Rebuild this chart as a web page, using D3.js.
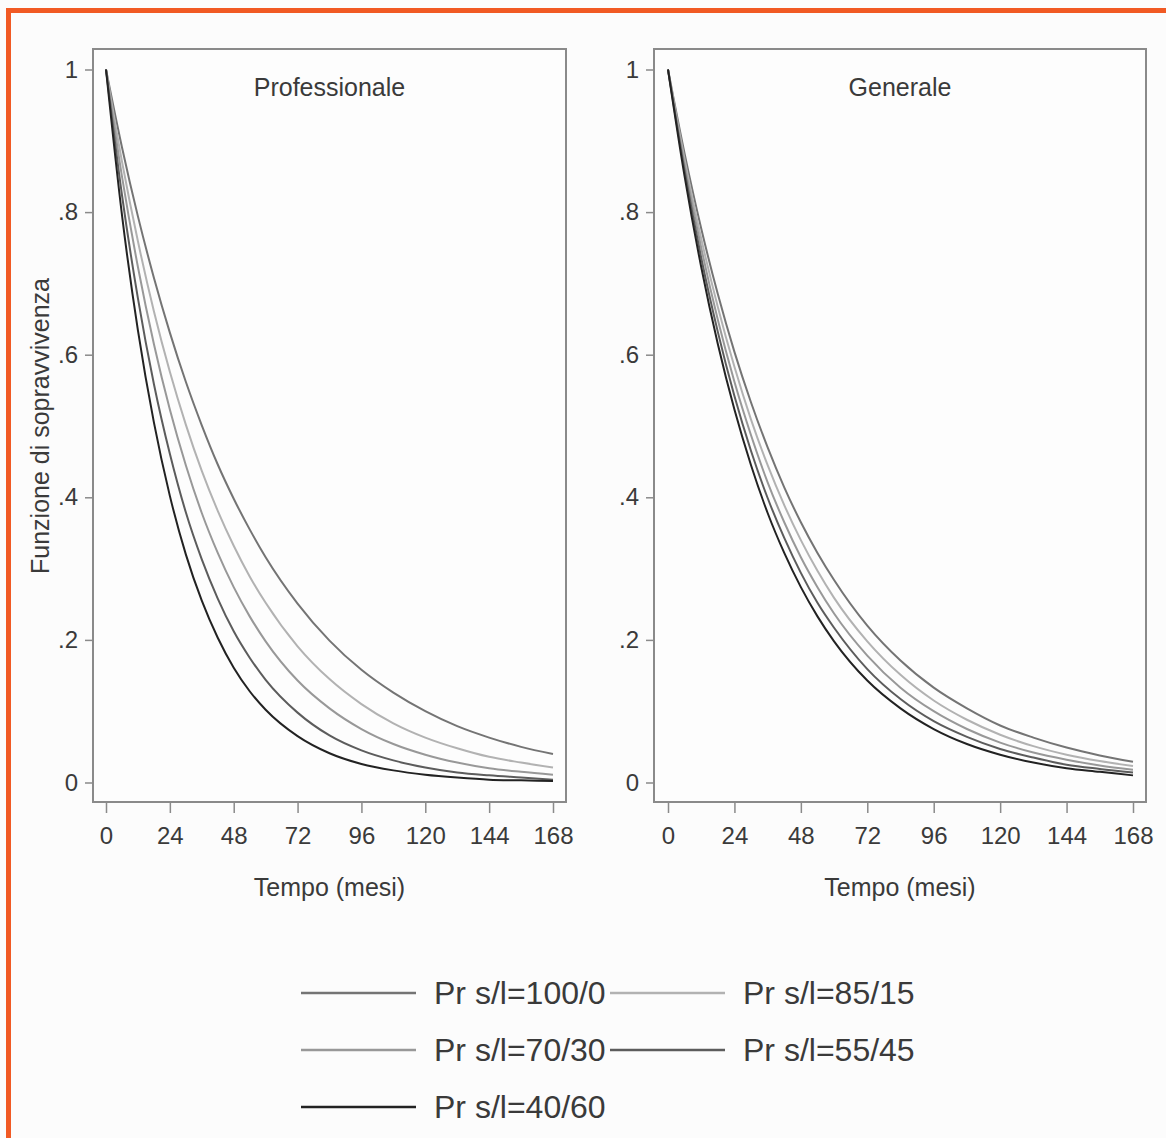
<!DOCTYPE html>
<html>
<head>
<meta charset="utf-8">
<script src="https://cdn.jsdelivr.net/npm/d3@7"></script>
<style>
  html, body { margin: 0; padding: 0; background: #fcfcfc; }
  svg { display: block; }
  text { font-family: "Liberation Sans", Arial, sans-serif; fill: #3a3a3a; }
</style>
</head>
<body>
<svg id="chart" width="1166" height="1138"></svg>
<script>
// ---- data ----
const months = [0, 6, 12, 18, 24, 30, 36, 42, 48, 54, 60, 72, 84, 96, 108, 120, 132, 144, 156, 168];
const seriesNames = ["Pr s/l=100/0", "Pr s/l=85/15", "Pr s/l=70/30", "Pr s/l=55/45", "Pr s/l=40/60"];
const panelTitles = ["Professionale", "Generale"];
const xTicks = [0, 24, 48, 72, 96, 120, 144, 168];
const yTicks = [0, 0.2, 0.4, 0.6, 0.8, 1];

// Professionale
const prof100_0 = [1, 0.891, 0.794, 0.708, 0.631, 0.562, 0.501, 0.446, 0.398, 0.355, 0.316, 0.251, 0.199, 0.158, 0.126, 0.100, 0.079, 0.063, 0.050, 0.040];
const prof85_15 = [1, 0.871, 0.759, 0.661, 0.576, 0.502, 0.437, 0.381, 0.332, 0.289, 0.252, 0.191, 0.145, 0.110, 0.083, 0.063, 0.048, 0.036, 0.028, 0.021];
const prof70_30 = [1, 0.850, 0.723, 0.615, 0.523, 0.445, 0.378, 0.322, 0.274, 0.233, 0.198, 0.143, 0.104, 0.075, 0.054, 0.039, 0.028, 0.020, 0.015, 0.011];
const prof55_45 = [1, 0.824, 0.679, 0.559, 0.461, 0.379, 0.313, 0.258, 0.212, 0.175, 0.144, 0.098, 0.066, 0.045, 0.031, 0.021, 0.014, 0.010, 0.007, 0.004];
const prof40_60 = [1, 0.796, 0.634, 0.505, 0.402, 0.320, 0.255, 0.203, 0.161, 0.128, 0.102, 0.065, 0.041, 0.026, 0.017, 0.011, 0.007, 0.004, 0.003, 0.002];

// Generale
const gen100_0 = [1, 0.882, 0.777, 0.685, 0.604, 0.533, 0.470, 0.414, 0.365, 0.322, 0.284, 0.220, 0.171, 0.133, 0.104, 0.080, 0.063, 0.049, 0.038, 0.029];
const gen85_15 = [1, 0.874, 0.763, 0.667, 0.583, 0.509, 0.445, 0.389, 0.340, 0.297, 0.259, 0.198, 0.151, 0.115, 0.088, 0.067, 0.051, 0.039, 0.030, 0.023];
const gen70_30 = [1, 0.866, 0.750, 0.649, 0.562, 0.487, 0.421, 0.365, 0.316, 0.274, 0.237, 0.178, 0.133, 0.100, 0.075, 0.056, 0.042, 0.032, 0.024, 0.018];
const gen55_45 = [1, 0.858, 0.736, 0.632, 0.542, 0.465, 0.399, 0.343, 0.294, 0.252, 0.217, 0.159, 0.117, 0.086, 0.064, 0.047, 0.035, 0.025, 0.019, 0.014];
const gen40_60 = [1, 0.850, 0.723, 0.615, 0.523, 0.445, 0.378, 0.322, 0.274, 0.233, 0.198, 0.143, 0.104, 0.075, 0.054, 0.039, 0.028, 0.020, 0.015, 0.010];

const panelData = [
  [prof100_0, prof85_15, prof70_30, prof55_45, prof40_60],
  [gen100_0, gen85_15, gen70_30, gen55_45, gen40_60]
];

// ---- styling / layout ----
const colors = ["#747474", "#b2b2b2", "#989898", "#5c5c5c", "#222222"];
const frameColor = "#8a8a8a";
const orange = "#f15a24";

const panels = [
  { frame: [93, 566], range: [106, 553] },
  { frame: [654, 1146], range: [668, 1133] }
];
const frameTop = 49, frameBottom = 802;

const svg = d3.select("#chart");
svg.append("rect").attr("width", 1166).attr("height", 1138).attr("fill", "#fcfcfc");

// orange border (top and left)
svg.append("rect").attr("x", 6).attr("y", 8).attr("width", 1160).attr("height", 5).attr("fill", orange);
svg.append("rect").attr("x", 6).attr("y", 8).attr("width", 5).attr("height", 1130).attr("fill", orange);

const y = d3.scaleLinear().domain([0, 1]).range([782.5, 69.5]);
const yFmt = d => d === 0 ? "0" : d === 1 ? "1" : d3.format(".1f")(d).replace(/^0/, "");

panels.forEach((p, pi) => {
  const x = d3.scaleLinear().domain([0, 168]).range(p.range);
  const g = svg.append("g");

  // frame
  g.append("rect")
    .attr("x", p.frame[0]).attr("y", frameTop)
    .attr("width", p.frame[1] - p.frame[0]).attr("height", frameBottom - frameTop)
    .attr("fill", "#fdfdfd").attr("stroke", frameColor).attr("stroke-width", 2);

  // y axis
  const ya = g.append("g").attr("transform", `translate(${p.frame[0]},0)`)
    .call(d3.axisLeft(y).tickValues(yTicks).tickFormat(yFmt).tickSize(8).tickPadding(7));
  ya.select(".domain").remove();
  ya.selectAll(".tick line").attr("stroke", frameColor).attr("stroke-width", 1.5);
  ya.selectAll(".tick text").attr("font-size", 24).attr("fill", "#3a3a3a")
    .attr("font-family", "Liberation Sans, Arial, sans-serif");

  // x axis
  const xa = g.append("g").attr("transform", `translate(0,${frameBottom})`)
    .call(d3.axisBottom(x).tickValues(xTicks).tickSize(11).tickPadding(14));
  xa.select(".domain").remove();
  xa.selectAll(".tick line").attr("stroke", frameColor).attr("stroke-width", 1.5);
  xa.selectAll(".tick text").attr("font-size", 24).attr("fill", "#3a3a3a")
    .attr("font-family", "Liberation Sans, Arial, sans-serif");

  // panel title
  g.append("text")
    .attr("x", (p.frame[0] + p.frame[1]) / 2).attr("y", 96)
    .attr("text-anchor", "middle").attr("font-size", 25)
    .text(panelTitles[pi]);

  // x axis title
  g.append("text")
    .attr("x", (p.frame[0] + p.frame[1]) / 2).attr("y", 896)
    .attr("text-anchor", "middle").attr("font-size", 25)
    .text("Tempo (mesi)");

  // curves
  const line = d3.line()
    .x((d, i) => x(months[i]))
    .y(d => y(d))
    .curve(d3.curveMonotoneX);

  panelData[pi].forEach((vals, si) => {
    g.append("path")
      .datum(vals)
      .attr("d", line)
      .attr("fill", "none")
      .attr("stroke", colors[si])
      .attr("stroke-width", 2);
  });
});

// y axis title
svg.append("text")
  .attr("transform", "translate(49,426) rotate(-90)")
  .attr("text-anchor", "middle").attr("font-size", 25)
  .text("Funzione di sopravvivenza");

// legend
const legendPos = [
  { lx: 301, tx: 434, y: 993 },
  { lx: 610, tx: 743, y: 993 },
  { lx: 301, tx: 434, y: 1050 },
  { lx: 610, tx: 743, y: 1050 },
  { lx: 301, tx: 434, y: 1107 }
];
const lg = svg.append("g");
seriesNames.forEach((name, i) => {
  const pos = legendPos[i];
  lg.append("line")
    .attr("x1", pos.lx).attr("x2", pos.lx + 115)
    .attr("y1", pos.y).attr("y2", pos.y)
    .attr("stroke", colors[i]).attr("stroke-width", 2.5);
  lg.append("text")
    .attr("x", pos.tx).attr("y", pos.y + 11)
    .attr("font-size", 32)
    .text(name);
});
</script>
</body>
</html>
